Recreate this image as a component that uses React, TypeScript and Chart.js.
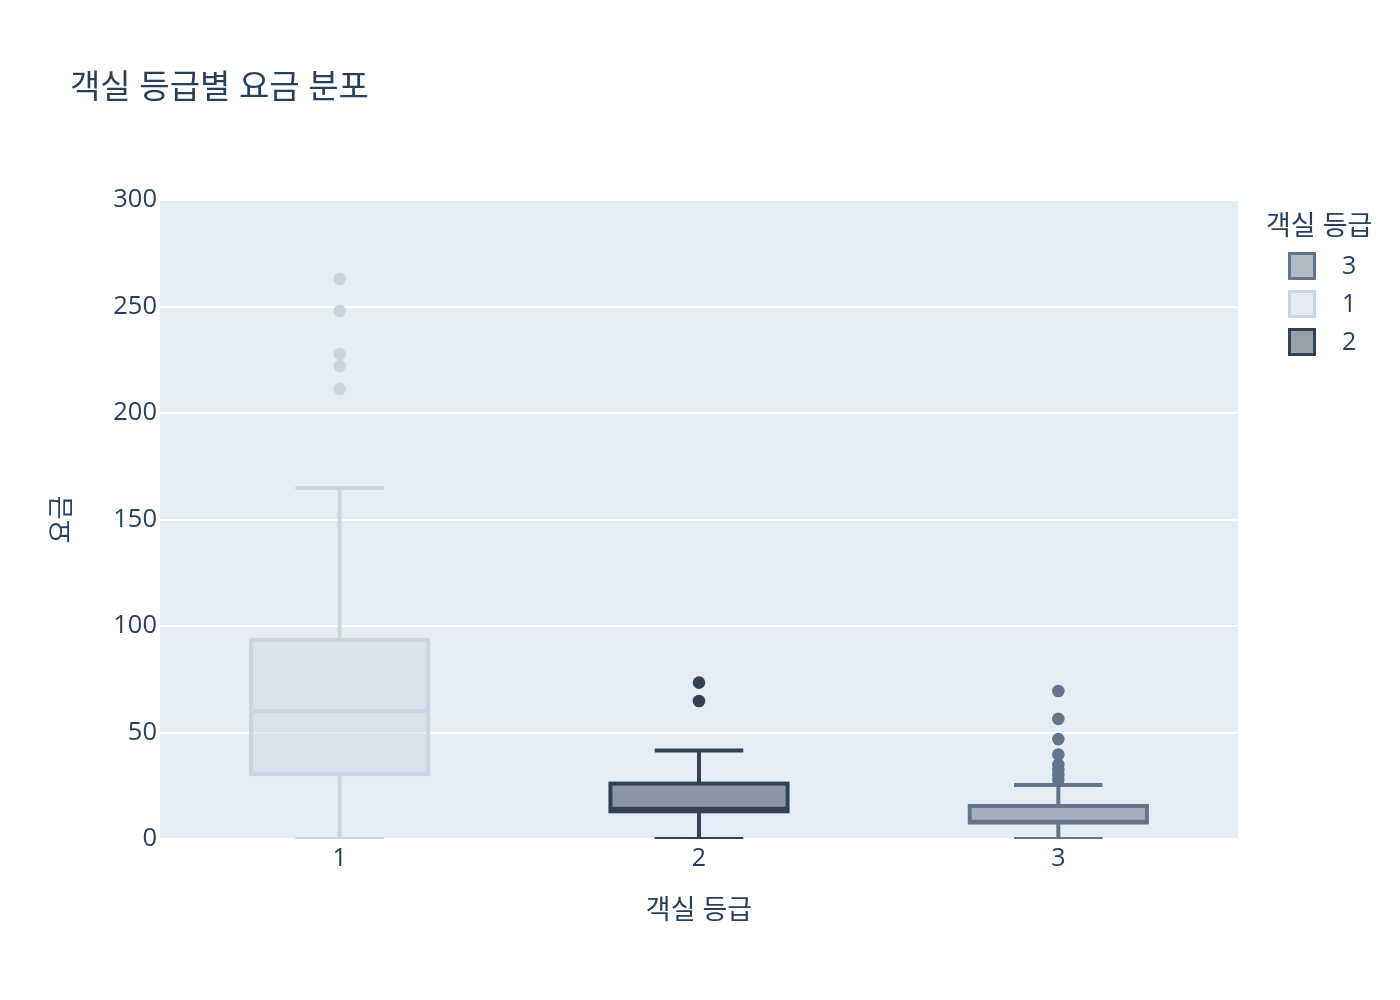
import React, { useEffect, useRef } from 'react';
import { Chart, registerables } from 'chart.js';

Chart.register(...registerables);

// ---- data ----
const CATEGORIES = ['1', '2', '3'];
const TRACE_ORDER = ['3', '1', '2'];
const LOWER_WHISKER = [0, 0, 0];
const Q1 = [30.5, 13.0, 7.75];
const MEDIAN = [60.1, 14.25, 8.05];
const Q3 = [93.5, 26.0, 15.5];
const UPPER_WHISKER = [164.8, 41.5, 25.4];
const OUTLIERS_1 = [262.9, 247.9, 227.7, 222.1, 211.3];
const OUTLIERS_2 = [73.4, 64.8];
const OUTLIERS_3 = [69.5, 56.4, 46.9, 39.7, 35.0, 32.4, 30.0, 27.8];
const Y_TICKS = [0, 50, 100, 150, 200, 250, 300];

const TITLE = '객실 등급별 요금 분포';
const X_TITLE = '객실 등급';
const Y_TITLE = '요금';
const LEGEND_TITLE = '객실 등급';

const COLORS: Record<string, string> = { '1': '#cbd5e1', '2': '#334155', '3': '#64748b' };
const FILLS: Record<string, string> = {
  '1': 'rgba(203,213,225,0.5)',
  '2': 'rgba(51,65,85,0.5)',
  '3': 'rgba(100,116,139,0.5)',
};
const TEXT = '#2a3f5f';
const FONT = '"Open Sans", "Noto Sans CJK KR", sans-serif';
const BOX_FRACTION = 0.493;

const OUTLIERS: Record<string, number[]> = { '1': OUTLIERS_1, '2': OUTLIERS_2, '3': OUTLIERS_3 };

const bgPlugin = {
  id: 'plotBg',
  beforeDraw(chart: any) {
    const { ctx, chartArea: a } = chart;
    ctx.save();
    ctx.fillStyle = '#E5ECF6';
    ctx.fillRect(a.left, a.top, a.right - a.left, a.bottom - a.top);
    ctx.restore();
  },
};

const boxPlugin = {
  id: 'boxes',
  beforeDatasetsDraw(chart: any) {
    const { ctx, chartArea: a, scales } = chart;
    const x = scales.x;
    const y = scales.y;
    const catW = x.getPixelForValue(1) - x.getPixelForValue(0);
    const boxW = catW * BOX_FRACTION;
    ctx.save();
    ctx.beginPath();
    ctx.rect(a.left, a.top - 2, a.right - a.left, a.bottom - a.top + 2);
    ctx.clip();
    TRACE_ORDER.forEach((cls) => {
      const i = CATEGORIES.indexOf(cls);
      const cx = x.getPixelForValue(i);
      const yLo = y.getPixelForValue(LOWER_WHISKER[i]);
      const yQ1 = y.getPixelForValue(Q1[i]);
      const yMed = y.getPixelForValue(MEDIAN[i]);
      const yQ3 = y.getPixelForValue(Q3[i]);
      const yHi = y.getPixelForValue(UPPER_WHISKER[i]);
      ctx.strokeStyle = COLORS[cls];
      ctx.lineWidth = 4;
      ctx.lineCap = 'butt';
      // whiskers
      ctx.beginPath();
      ctx.moveTo(cx, yQ3);
      ctx.lineTo(cx, yHi);
      ctx.moveTo(cx - boxW / 4, yHi);
      ctx.lineTo(cx + boxW / 4, yHi);
      ctx.moveTo(cx, yQ1);
      ctx.lineTo(cx, yLo);
      ctx.moveTo(cx - boxW / 4, yLo);
      ctx.lineTo(cx + boxW / 4, yLo);
      ctx.stroke();
      // box
      ctx.fillStyle = FILLS[cls];
      ctx.fillRect(cx - boxW / 2, yQ3, boxW, yQ1 - yQ3);
      ctx.strokeRect(cx - boxW / 2, yQ3, boxW, yQ1 - yQ3);
      // median
      ctx.beginPath();
      ctx.moveTo(cx - boxW / 2, yMed);
      ctx.lineTo(cx + boxW / 2, yMed);
      ctx.stroke();
    });
    ctx.restore();
  },
};

const textPlugin = {
  id: 'texts',
  afterDraw(chart: any) {
    const { ctx, chartArea: a } = chart;
    ctx.save();
    ctx.fillStyle = TEXT;
    // title
    ctx.font = `33px ${FONT}`;
    ctx.textAlign = 'left';
    ctx.textBaseline = 'middle';
    ctx.fillText(TITLE, 70, 89);
    // x title
    ctx.font = `27px ${FONT}`;
    ctx.textAlign = 'center';
    ctx.fillText(X_TITLE, (a.left + a.right) / 2, 911);
    // y title
    ctx.save();
    ctx.font = `26px ${FONT}`;
    ctx.translate(63, (a.top + a.bottom) / 2);
    ctx.rotate(-Math.PI / 2);
    ctx.fillText(Y_TITLE, 0, 0);
    ctx.restore();
    // legend
    ctx.textAlign = 'left';
    ctx.font = `27px ${FONT}`;
    ctx.fillText(LEGEND_TITLE, 1266, 227);
    ctx.font = `25px ${FONT}`;
    TRACE_ORDER.forEach((cls, k) => {
      const cy = 266 + k * 38;
      ctx.fillStyle = FILLS[cls];
      ctx.fillRect(1289.5, cy - 12.5, 25, 25);
      ctx.strokeStyle = COLORS[cls];
      ctx.lineWidth = 3;
      ctx.strokeRect(1289.5, cy - 12.5, 25, 25);
      ctx.fillStyle = TEXT;
      ctx.fillText(cls, 1342, cy + 1);
    });
    ctx.restore();
  },
};

export default function App() {
  const ref = useRef<HTMLCanvasElement>(null);
  useEffect(() => {
    if (!ref.current) return;
    const datasets = TRACE_ORDER.map((cls) => ({
      type: 'line' as const,
      label: cls,
      data: OUTLIERS[cls].map((v) => ({ x: cls, y: v })),
      showLine: false,
      pointRadius: 6.3,
      pointHoverRadius: 6.3,
      pointBackgroundColor: COLORS[cls],
      pointBorderColor: COLORS[cls],
      pointBorderWidth: 0,
      backgroundColor: COLORS[cls],
      borderColor: COLORS[cls],
    }));
    const chart = new Chart(ref.current, {
      type: 'line',
      data: { labels: CATEGORIES, datasets },
      plugins: [bgPlugin, boxPlugin, textPlugin],
      options: {
        animation: false,
        responsive: false,
        devicePixelRatio: 1,
        layout: { padding: { top: 200, right: 162, left: 0, bottom: 0 } },
        plugins: { legend: { display: false }, title: { display: false }, tooltip: { enabled: false } },
        scales: {
          x: {
            type: 'category',
            offset: true,
            grid: { display: false, drawTicks: false },
            border: { display: false },
            ticks: { color: TEXT, font: { family: FONT, size: 25 }, padding: 5 },
            afterFit: (s: any) => { s.height = 161; },
          },
          y: {
            type: 'linear',
            min: 0,
            max: 300,
            afterBuildTicks: (s: any) => { s.ticks = Y_TICKS.map((v) => ({ value: v })); },
            grid: { color: '#ffffff', lineWidth: 2, drawTicks: false },
            border: { display: false },
            ticks: { color: TEXT, font: { family: FONT, size: 25.5 }, padding: 3 },
            afterFit: (s: any) => { s.width = 160; },
          },
        },
      },
    } as any);
    return () => chart.destroy();
  }, []);
  return (
    <div style={{ position: 'absolute', left: 0, top: 0, width: 1400, height: 1000, background: '#fff' }}>
      <canvas ref={ref} width={1400} height={1000} />
    </div>
  );
}
